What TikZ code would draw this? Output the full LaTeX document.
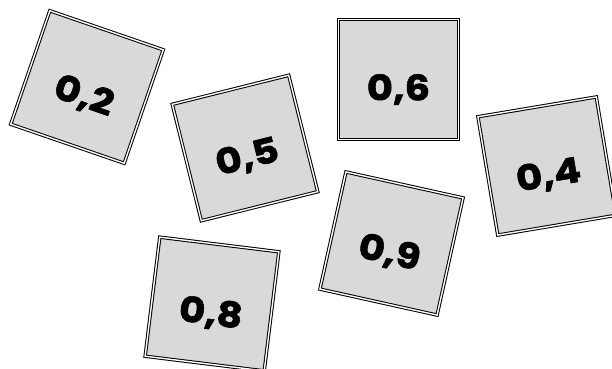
\documentclass[tikz,border=0pt]{standalone}
\usepackage{fontspec}
\setmainfont{Poppins}[BoldFeatures={FakeBold=1.6,FakeStretch=1.15}]
\usetikzlibrary{calc}
\tikzset{
  card/.style={draw, double, double distance=1.4pt, line width=1pt, fill=gray!30, minimum size=120pt, inner sep=0pt},
  num/.style={font=\fontsize{35}{35}\selectfont\bfseries, inner sep=0pt}
}
\begin{document}
\begin{tikzpicture}[x=1pt,y=-1pt]
\useasboundingbox (0,0) rectangle (612,368);
\node[card, rotate=-19] (c2) at (87,87) {};
\node[card, rotate=14] (c5) at (245,148) {};
\node[card] (c6) at (398.5,79.5) {};
\node[card, rotate=9.5] (c4) at (547,166) {};
\node[card, rotate=-12.5] (c9) at (391.5,243.5) {};
\node[card, rotate=-7] (c8) at (212,304) {};
\node[num, rotate=-19] (t2) at ($(c2.center)!10pt!(c2.south)$) {0,2};
\node[num, rotate=14] (t5) at ($(c5.center)!10pt!(c5.south)$) {0,5};
\node[num] (t6) at ($(c6.center)!10pt!(c6.south)$) {0,6};
\node[num, rotate=9.5] (t4) at ($(c4.center)!10pt!(c4.south)$) {0,4};
\node[num, rotate=-12.5] (t9) at ($(c9.center)!10pt!(c9.south)$) {0,9};
\node[num, rotate=-7] (t8) at ($(c8.center)!10pt!(c8.south)$) {0,8};
\end{tikzpicture}
\end{document}
